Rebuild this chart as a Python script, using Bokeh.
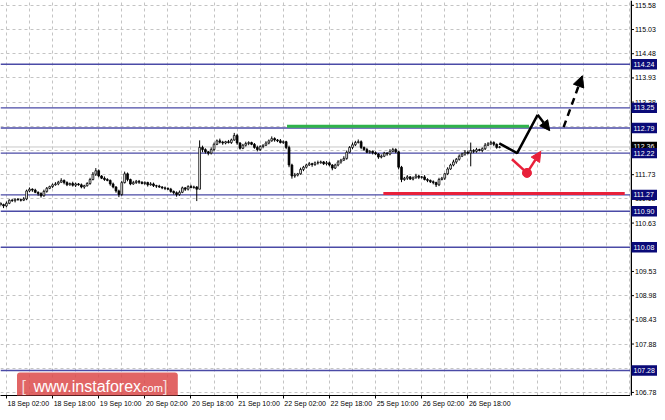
from bokeh.plotting import figure
from bokeh.layouts import row
from bokeh.models import (FixedTicker, Label, Arrow, NormalHead, Range1d, LinearAxis,
                          ColumnDataSource)
from bokeh.core.properties import value
from bokeh.embed import file_html
from bokeh.resources import INLINE

# ---------------- data ----------------
closes = [
    111.05, 111.02, 111.08, 111.15, 111.14, 111.17, 111.16, 111.15, 111.18, 111.36,
    111.40, 111.38, 111.33, 111.30, 111.25, 111.35, 111.42, 111.46, 111.50, 111.52,
    111.56, 111.60, 111.55, 111.50, 111.53, 111.49, 111.52, 111.50, 111.45, 111.48,
    111.53, 111.62, 111.74, 111.82, 111.70, 111.65, 111.62, 111.60, 111.52, 111.45,
    111.36, 111.28, 111.55, 111.75, 111.62, 111.52, 111.55, 111.58, 111.56, 111.53,
    111.55, 111.50, 111.52, 111.48, 111.47, 111.45, 111.43, 111.42, 111.40, 111.35,
    111.32, 111.28, 111.33, 111.43, 111.40, 111.46, 111.44, 111.45, 111.40, 112.35,
    112.30, 112.25, 112.22, 112.30, 112.42, 112.50, 112.47, 112.45, 112.48, 112.46,
    112.52, 112.62, 112.45, 112.33, 112.40, 112.44, 112.46, 112.42, 112.35, 112.30,
    112.37, 112.40, 112.45, 112.50, 112.55, 112.52, 112.50, 112.46, 112.48, 112.35,
    111.95, 111.70, 111.72, 111.75, 111.85, 111.90, 111.95, 111.98, 111.96, 112.00,
    112.00, 112.02, 111.98, 112.00, 111.95, 111.88, 111.95, 112.02, 112.06, 112.10,
    112.24, 112.35, 112.41, 112.46, 112.48, 112.35, 112.30, 112.24, 112.26, 112.23,
    112.20, 112.13, 112.15, 112.22, 112.20, 112.26, 112.30, 112.25, 111.90, 111.62,
    111.65, 111.68, 111.63, 111.66, 111.70, 111.67, 111.68, 111.62, 111.60, 111.57,
    111.55, 111.50, 111.62, 111.65, 111.75, 111.86, 111.95, 112.02, 112.08, 112.15,
    112.20, 112.24, 112.22, 112.28, 112.26, 112.30, 112.28, 112.32, 112.40, 112.43,
    112.46, 112.42, 112.35, 112.36,
]
first_open = 111.08
# wick lengths in pips (0.01)
wick_up = [
    3, 2, 4, 2, 3, 2, 3, 2, 4, 3,  4, 2, 3, 2, 3, 4, 3, 2, 3, 4,
    3, 5, 2, 3, 2, 4, 3, 2, 3, 2,  3, 4, 5, 6, 3, 2, 4, 3, 2, 3,
    2, 3, 4, 5, 3, 2, 4, 3, 3, 2,  3, 2, 4, 3, 2, 3, 2, 3, 2, 3,
    2, 3, 4, 3, 2, 3, 4, 3, 2, 16, 4, 3, 2, 5, 4, 3, 5, 3, 2, 4,
    3, 6, 4, 2, 3, 4, 3, 2, 3, 4,  3, 2, 4, 3, 5, 3, 2, 4, 3, 2,
    4, 3, 5, 2, 4, 3, 3, 4, 2, 3,  5, 3, 2, 4, 3, 2, 3, 4, 3, 5,
    4, 3, 5, 4, 5, 3, 2, 4, 3, 2,  3, 2, 4, 3, 2, 5, 4, 3, 2, 3,
    3, 4, 2, 3, 5, 3, 2, 4, 3, 2,  3, 2, 4, 3, 2, 4, 3, 5, 3, 4,
    3, 5, 4, 18, 3, 4, 2, 3, 5, 4, 4, 3, 2, 2,
]
wick_dn = [
    4, 5, 3, 2, 3, 4, 2, 3, 2, 3,  3, 4, 2, 5, 4, 2, 3, 2, 3, 2,
    3, 2, 4, 3, 2, 3, 4, 2, 3, 4,  2, 3, 2, 4, 3, 2, 3, 2, 4, 3,
    4, 6, 3, 2, 4, 3, 2, 3, 4, 2,  3, 4, 2, 3, 4, 2, 3, 4, 2, 3,
    4, 5, 3, 2, 4, 3, 2, 3, 27, 0, 6, 4, 5, 3, 4, 2, 3, 4, 3, 2,
    3, 2, 4, 3, 2, 3, 4, 2, 3, 4,  3, 4, 2, 3, 2, 4, 3, 2, 3, 4,
    5, 6, 4, 3, 2, 4, 3, 2, 5, 3,  4, 2, 3, 4, 3, 5, 2, 3, 4, 2,
    3, 2, 4, 3, 2, 4, 3, 2, 3, 4,  2, 4, 3, 2, 4, 3, 2, 3, 5, 6,
    3, 4, 2, 3, 2, 4, 3, 2, 4, 3,  4, 5, 3, 2, 4, 3, 2, 3, 4, 3,
    2, 4, 3, 30, 4, 3, 2, 4, 3, 2, 3, 4, 3, 2,
]

level_prices = [114.24, 113.25, 112.79, 112.22, 111.27, 110.90, 110.08, 107.28]
current_price = 112.36
y_ticks = [106.78, 107.33, 107.88, 108.43, 108.98, 109.53, 110.08, 110.63, 111.18,
           111.73, 112.28, 112.83, 113.38, 113.93, 114.48, 115.03, 115.58]
x_tick_bars = [2, 18, 34, 50, 66, 82, 98, 114, 130, 146, 162]
x_tick_labels = ["18 Sep 02:00", "18 Sep 18:00", "19 Sep 10:00", "20 Sep 02:00",
                 "20 Sep 18:00", "21 Sep 10:00", "22 Sep 02:00", "22 Sep 18:00",
                 "25 Sep 10:00", "26 Sep 02:00", "26 Sep 18:00"]

# support / resistance marks
green_x = [99.3, 183.2]
green_y = [112.83, 112.83]
red_x = [132.7, 216.4]
red_y = [111.30, 111.30]
# forecast paths
black_path_x = [172.9, 179.1, 186.2, 190.4]
black_path_y = [112.44, 112.22, 113.09, 112.73]
dash_arrow_x = [195.2, 201.7]
dash_arrow_y = [112.81, 113.98]
red_path_x = [177.3, 182.5, 187.3]
red_path_y = [112.08, 111.77, 112.26]

# ---------------- main chart ----------------
FW, FH = 630, 395
SW = 27  # width of the price scale panel
X0, X1 = -0.05, 218.4
Y0, Y1 = 106.71, 115.69
FONT = "Liberation Sans"
FS = "7px"

p = figure(frame_width=FW, frame_height=FH, x_range=Range1d(X0, X1),
           y_range=Range1d(Y0, Y1), y_axis_location=None,
           toolbar_location=None, output_backend="svg",
           min_border_left=0, min_border_top=0, min_border_right=0, min_border_bottom=0)
p.outline_line_color = None
p.background_fill_color = "white"
p.border_fill_color = "white"


def style_axis(ax):
    ax.axis_line_color = "black"
    ax.axis_line_width = 1
    ax.major_tick_line_color = "black"
    ax.major_tick_in = 0
    ax.major_tick_out = 3
    ax.minor_tick_line_color = None
    ax.major_label_text_font = FONT
    ax.major_label_text_font_size = FS
    ax.major_label_text_color = "black"
    ax.major_label_standoff = 2


# bottom: tick-mark axis (no labels) + label axis (labels start at the tick)
xa = p.xaxis[0]
style_axis(xa)
xa.ticker = FixedTicker(ticks=x_tick_bars)
xa.major_label_overrides = {b: "" for b in x_tick_bars}
xa.major_label_text_font_size = "1px"
xa.major_label_standoff = 0
label_shift = 7.6  # half a label width, in bars
xl = LinearAxis(ticker=FixedTicker(ticks=[b + label_shift for b in x_tick_bars]))
style_axis(xl)
xl.axis_line_color = None
xl.major_tick_out = 0
xl.major_label_standoff = 1
xl.major_label_overrides = {b + label_shift: t for b, t in zip(x_tick_bars, x_tick_labels)}
p.add_layout(xl, "below")

p.ygrid.ticker = FixedTicker(ticks=y_ticks)
p.xgrid.ticker = FixedTicker(ticks=list(range(2, 220, 8)))
for g in (p.xgrid[0], p.ygrid[0]):
    g.grid_line_color = "#c4c4c4"
    g.grid_line_dash = "3 3"
    g.grid_line_width = 1

# current price line
p.line([X0, X1], [current_price, current_price], color="#c8c8c8", line_width=1)
# level lines
for lv in level_prices:
    p.line([X0, X1], [lv, lv], color="#4a4aa6", line_width=1.4)

# candles
idx = list(range(len(closes)))
opens = [first_open] + closes[:-1]
highs = [max(o, c) + u / 100 for o, c, u in zip(opens, closes, wick_up)]
lows = [min(o, c) - d / 100 for o, c, d in zip(opens, closes, wick_dn)]
src = ColumnDataSource(dict(
    x=idx, o=opens, c=closes, h=highs, l=lows,
    top=[max(o, c) for o, c in zip(opens, closes)],
    bot=[min(o, c) for o, c in zip(opens, closes)],
    fill=["white" if c >= o else "black" for o, c in zip(opens, closes)],
))
p.segment(x0="x", y0="h", x1="x", y1="l", source=src, color="black", line_width=1)
p.vbar(x="x", top="top", bottom="bot", width=0.62, source=src,
       fill_color="fill", line_color="black", line_width=0.8)

# green / red horizontal marks
p.line(green_x, green_y, color="#2fb34a", line_width=3)
p.line(red_x, red_y, color="#e8203a", line_width=3)

# black forecast path
p.line(black_path_x[:3], black_path_y[:3], color="black", line_width=2.5)
p.add_layout(Arrow(x_start=black_path_x[2], y_start=black_path_y[2],
                   x_end=black_path_x[3], y_end=black_path_y[3],
                   line_color="black", line_width=2.5,
                   end=NormalHead(size=10, fill_color="black", line_color="black")))
p.add_layout(Arrow(x_start=dash_arrow_x[0], y_start=dash_arrow_y[0],
                   x_end=dash_arrow_x[1], y_end=dash_arrow_y[1],
                   line_color="black", line_width=2.5, line_dash="7 5",
                   end=NormalHead(size=11, fill_color="black", line_color="black")))
# red forecast path
p.line(red_path_x[:2], red_path_y[:2], color="#e8203a", line_width=2.5)
p.scatter([red_path_x[1]], [red_path_y[1]], size=9, color="#e8203a")
p.add_layout(Arrow(x_start=red_path_x[1], y_start=red_path_y[1],
                   x_end=red_path_x[2], y_end=red_path_y[2],
                   line_color="#e8203a", line_width=2.5,
                   end=NormalHead(size=10, fill_color="#e8203a", line_color="#e8203a")))

# watermark logo (screen units, relative to the frame's bottom-left)
LX, LY = 16.5, 8
p.add_layout(Label(x=LX, y=LY, x_units="screen", y_units="screen",
                   text="[ www.instaforex ]",
                   text_font=FONT, text_font_size="19.5px", text_color="#dc4a4a",
                   text_alpha=0.02,
                   text_baseline="middle", text_align="left",
                   background_fill_color="#dc4a4a", background_fill_alpha=0.85,
                   padding=4, border_radius=3))
p.add_layout(Label(x=LX + 4.5, y=LY + 1, x_units="screen", y_units="screen", text="[",
                   text_font=FONT, text_font_size="16px", text_color="#f4dada",
                   text_baseline="middle", text_align="left"))
p.add_layout(Label(x=LX + 16.5, y=LY + 1, x_units="screen", y_units="screen",
                   text="www.instaforex",
                   text_font=FONT, text_font_size="16px", text_color="white",
                   text_baseline="middle", text_align="left"))
p.add_layout(Label(x=LX + 122, y=LY, x_units="screen", y_units="screen", text=".com",
                   text_font=FONT, text_font_size="11px", text_color="white",
                   text_baseline="middle", text_align="left"))
p.add_layout(Label(x=LX + 146, y=LY + 1, x_units="screen", y_units="screen", text="]",
                   text_font=FONT, text_font_size="16px", text_color="#f4dada",
                   text_baseline="middle", text_align="left"))

# ---------------- price scale panel ----------------
EXTRA = 12  # px below the chart frame so the lowest tick label is not cut
s = figure(frame_width=SW, frame_height=FH + EXTRA,
           x_range=Range1d(0, SW),
           y_range=Range1d(Y0 - EXTRA / FH * (Y1 - Y0), Y1),
           x_axis_location=None, y_axis_location=None,
           toolbar_location=None, output_backend="svg",
           min_border_left=0, min_border_top=0, min_border_right=0, min_border_bottom=0)
s.outline_line_color = None
s.grid.visible = False
s.background_fill_color = "white"
s.border_fill_color = "white"

half_box = 5.2 / FH * (Y1 - Y0)  # half a label box height, in price units
# scale line + ticks + tick labels
s.segment(x0=[0.75], y0=[Y0], x1=[0.75], y1=[Y1], color="black", line_width=1.5)
s.segment(x0=[0.5] * len(y_ticks), y0=y_ticks, x1=[3.5] * len(y_ticks), y1=y_ticks,
          color="black", line_width=1)
s.text(x=[4.5] * len(y_ticks), y=y_ticks, text=[f"{v:.2f}" for v in y_ticks],
       text_font=value(FONT), text_font_size=FS, text_color="black",
       text_baseline="middle", text_align="left")
# current price box, then level boxes
s.quad(left=[1], right=[SW], bottom=[current_price - half_box],
       top=[current_price + half_box], fill_color="black", line_color=None)
s.text(x=[3], y=[current_price], text=[f"{current_price:.2f}"],
       text_font=value(FONT), text_font_size=FS, text_color="white",
       text_baseline="middle", text_align="left")
s.quad(left=[1] * len(level_prices), right=[SW] * len(level_prices),
       bottom=[v - half_box for v in level_prices], top=[v + half_box for v in level_prices],
       fill_color="#0a0a78", line_color=None)
s.text(x=[3] * len(level_prices), y=level_prices, text=[f"{v:.2f}" for v in level_prices],
       text_font=value(FONT), text_font_size=FS, text_color="white",
       text_baseline="middle", text_align="left")

layout = row(p, s, spacing=0)
open("out.html", "w").write(file_html(layout, INLINE))
